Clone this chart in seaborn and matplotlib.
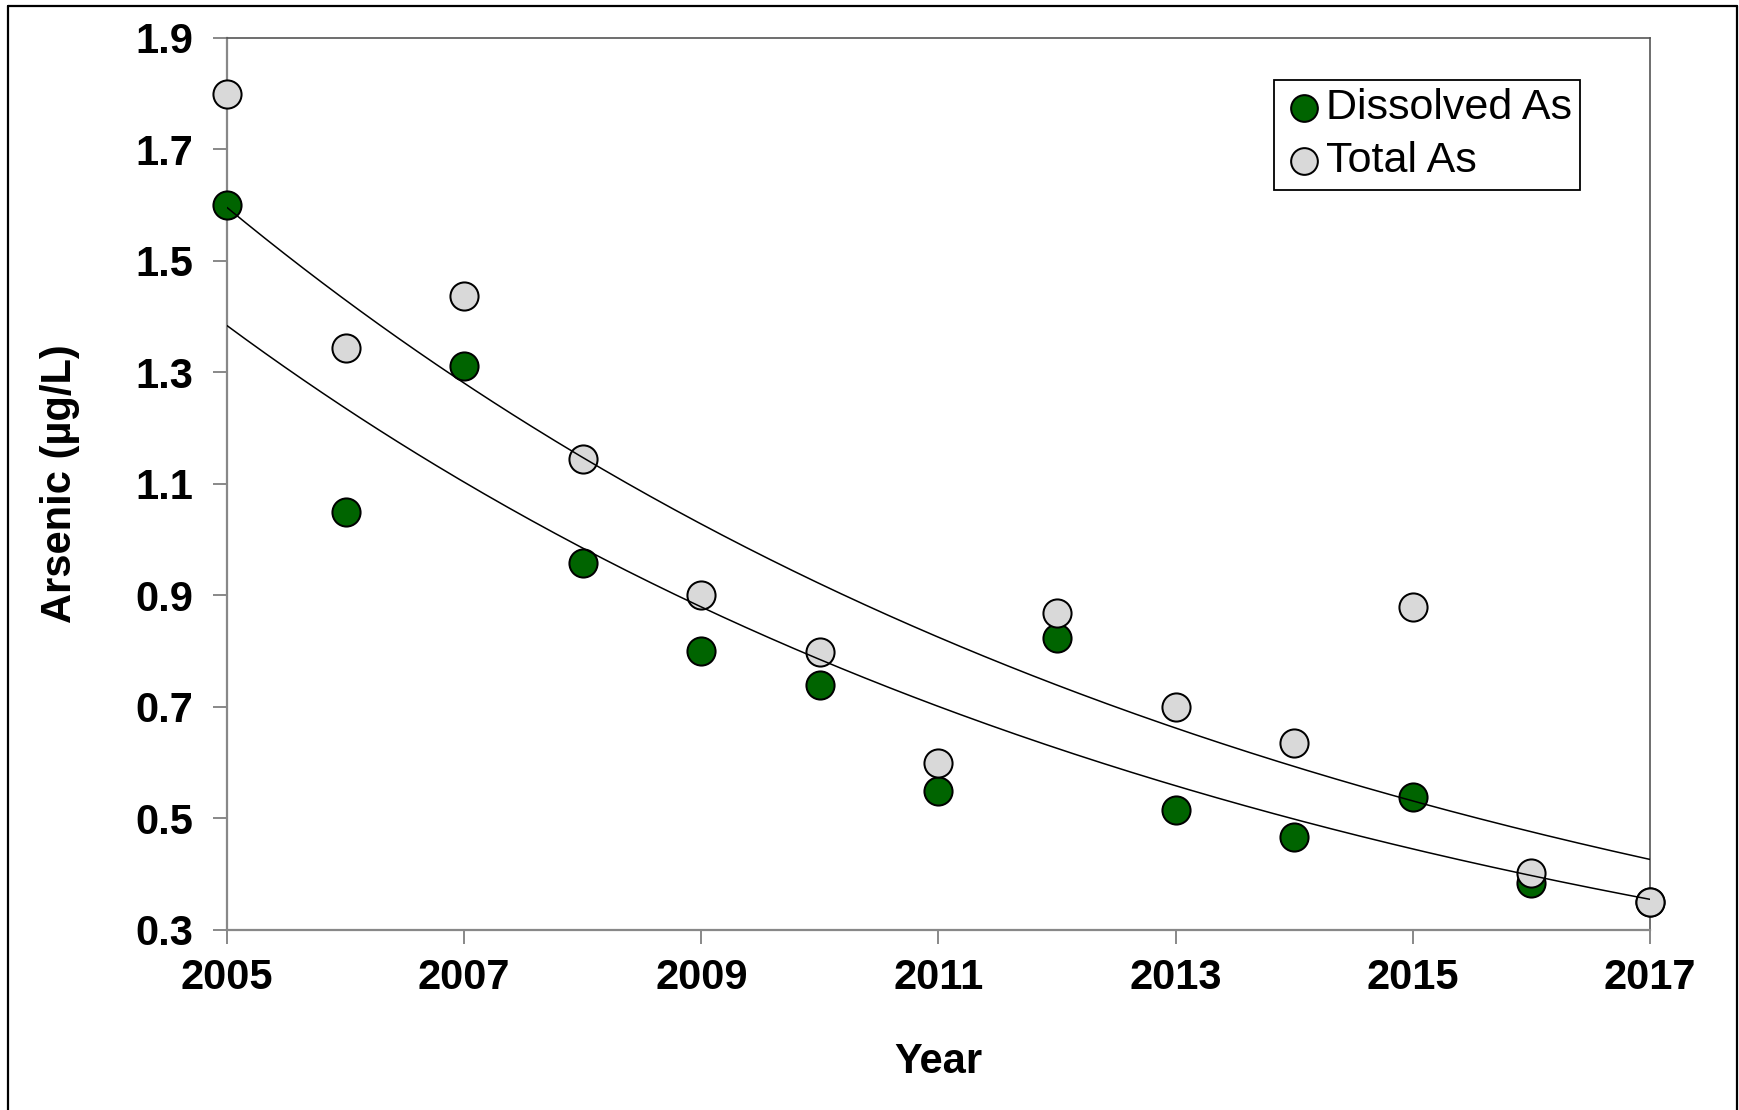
import numpy as np
import pandas as pd
import matplotlib
matplotlib.use("Agg")
import matplotlib.pyplot as plt
from matplotlib.lines import Line2D
import seaborn as sns

# Annual arsenic concentrations (µg/L)
years = [2005, 2006, 2007, 2008, 2009, 2010, 2011, 2012, 2013, 2014, 2015, 2016, 2017]
dissolved_as = [1.60, 1.05, 1.312, 0.958, 0.80, 0.740, 0.550, 0.823, 0.516, 0.466, 0.539, 0.384, 0.35]
total_as = [1.80, 1.344, 1.438, 1.145, 0.90, 0.799, 0.600, 0.868, 0.70, 0.635, 0.880, 0.402, 0.35]

y_ticks = [0.3, 0.5, 0.7, 0.9, 1.1, 1.3, 1.5, 1.7, 1.9]
x_ticks = [2005, 2007, 2009, 2011, 2013, 2015, 2017]

sns.set_theme(style="white")
plt.rcParams["font.family"] = ["Liberation Sans", "DejaVu Sans"]
plt.rcParams.update({"text.color": "black", "axes.labelcolor": "black",
                     "xtick.labelcolor": "black", "ytick.labelcolor": "black"})

df = pd.DataFrame({"Year": years, "Dissolved As": dissolved_as, "Total As": total_as})

fig = plt.figure(figsize=(17.39, 11.10), dpi=100)
ax = fig.add_axes([0.1305, 0.1622, 0.8183, 0.8036])

marker_kw = dict(s=410, edgecolor="black", linewidth=1.45, clip_on=False)
sns.scatterplot(data=df, x="Year", y="Dissolved As", color="#006400", ax=ax,
                label="Dissolved As", zorder=3, **marker_kw)
sns.scatterplot(data=df, x="Year", y="Total As", color="#d9d9d9", ax=ax,
                label="Total As", zorder=4, **marker_kw)

# Exponential trend lines fitted in log space
xs = np.linspace(2005, 2017, 300)
for col in ["Total As", "Dissolved As"]:
    b, a = np.polyfit(df["Year"] - 2005, np.log(df[col]), 1)
    ax.plot(xs, np.exp(a + b * (xs - 2005)), color="black", linewidth=1.1, zorder=5)

ax.set_xlim(2005, 2017)
ax.set_ylim(0.3, 1.9)
ax.set_xticks(x_ticks)
ax.set_yticks(y_ticks)
ax.set_yticklabels([f"{v:.1f}" for v in y_ticks])
ax.set_xticklabels([str(v) for v in x_ticks])

for lab in ax.get_xticklabels() + ax.get_yticklabels():
    lab.set_fontweight("bold")
    lab.set_fontsize(30)
    lab.set_color("black")

ax.tick_params(axis="both", which="major", direction="out", length=10, width=1.4,
               color="#888888", bottom=True, left=True)
ax.tick_params(axis="x", pad=10)
ax.tick_params(axis="y", pad=14)

for side in ["left", "bottom"]:
    ax.spines[side].set_color("#888888")
    ax.spines[side].set_linewidth(1.6)
for side in ["top", "right"]:
    ax.spines[side].set_color("#555555")
    ax.spines[side].set_linewidth(1.2)

ax.set_xlabel("Year", fontsize=30, fontweight="bold", labelpad=32, color="black")
ax.set_ylabel("Arsenic (µg/L)", fontsize=30, fontweight="bold", labelpad=40, color="black")

leg = ax.legend(loc="upper right", bbox_to_anchor=(0.951, 0.953), fontsize=31,
                frameon=True, fancybox=False, edgecolor="black", framealpha=1,
                markerscale=0.95, handletextpad=0.0, handlelength=1.0,
                borderpad=0.2, labelspacing=0.3, borderaxespad=0)
leg.get_frame().set_linewidth(1.3)
for t in leg.get_texts():
    t.set_color("black")

# Outer frame around the figure
for xy in [([0.0046, 0.0046], [0.0, 0.9946]), ([0.0046, 0.9988], [0.9946, 0.9946]),
           ([0.9988, 0.9988], [0.0, 0.9946])]:
    fig.add_artist(Line2D(xy[0], xy[1], color="black", linewidth=1.6, transform=fig.transFigure))

fig.savefig("out.png", dpi=100)
